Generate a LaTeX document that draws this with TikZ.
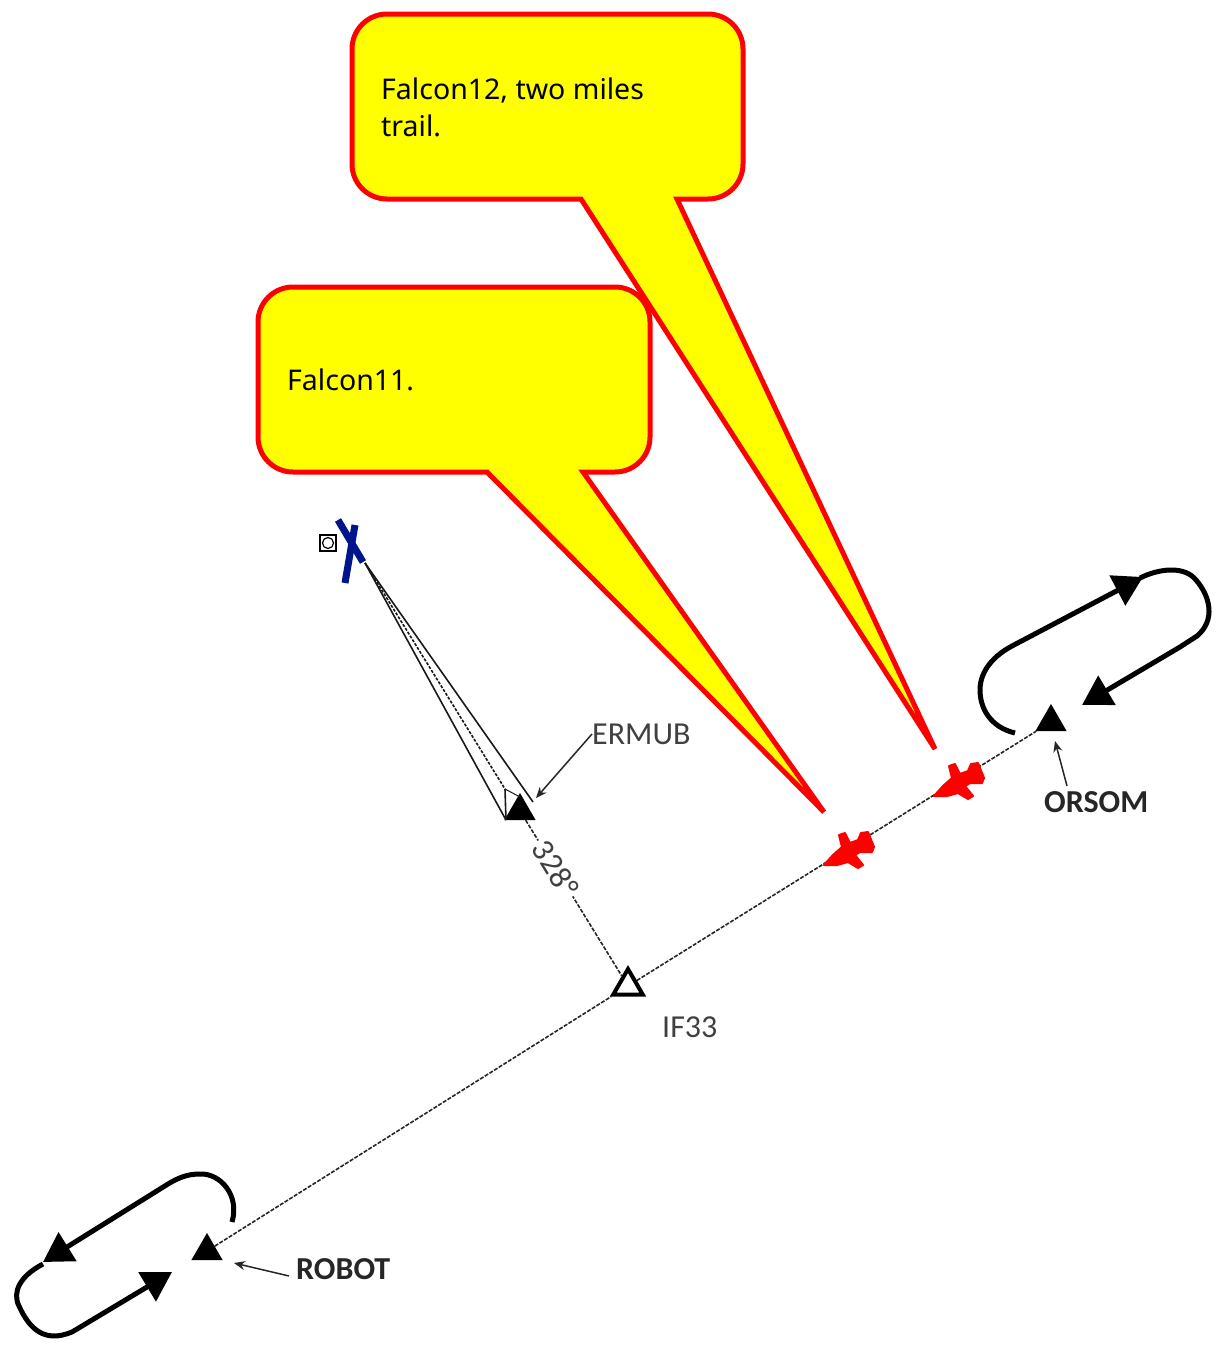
\documentclass[tikz,border=0pt]{standalone}
\usepackage{fontspec}
\setmainfont{Noto Sans}
\newfontfamily\labelfont{Carlito}
\usetikzlibrary{shapes,shapes.geometric,positioning,calc,arrows.meta}
\definecolor{bubbleyellow}{RGB}{255,255,0}
\definecolor{bubblered}{RGB}{255,0,0}
\definecolor{crossblue}{RGB}{0,20,140}

\begin{document}
\begin{tikzpicture}[x=1pt,y=-1pt]

\tikzset{
	fix/.style={
		regular polygon,
		regular polygon sides=3,
		fill=black,
		inner sep=0pt,
		minimum size=36pt
	}
}

\tikzset{
	fixlabel/.style={
		font=\labelfont\fontsize{32}{36}\selectfont,
		text=black!75,
		inner sep=0pt
	}
}

\tikzset{
	holdlabel/.style={
		font=\labelfont\bfseries\fontsize{32}{36}\selectfont,
		text=black!85,
		inner sep=0pt
	}
}

\tikzset{
	saying/.style={
		font=\fontsize{28.5}{36.5}\selectfont,
		align=left,
		anchor=north west,
		inner sep=0pt
	}
}

\tikzset{
	bubble/.style={
		draw=bubblered,
		fill=bubbleyellow,
		line width=5pt,
		line join=miter
	}
}

\tikzset{
	track/.style={
		line width=1.6pt,
		dash pattern=on 4pt off 1.5pt,
		black!85
	}
}

\tikzset{
	hold/.style={
		line width=5pt,
		black
	}
}

\tikzset{
	leader/.style={
		-{Stealth[length=11pt,width=9pt]},
		line width=1.5pt,
		black!85
	}
}

\tikzset{
	wedgeline/.style={
		line width=1.6pt,
		black!90
	}
}

\tikzset{
	jet/.pic={
		\fill[bubblered,draw=bubblered,line width=2pt,line join=round]
			(-26,15) -- (-17,5) -- (-8,-3) -- (-11,-15) -- (-5,-17) -- (0,-7)
			-- (8,-10) -- (11,-17) -- (18,-18) -- (24,-3) -- (22,2) -- (10,2)
			-- (5,5) -- (13,15) -- (8,18) -- (-2,12) -- (-13,15) -- cycle;
	}
}

\def\bend{35}
\def\arrowhead{{Triangle[length=29pt,width=33pt]}}

\useasboundingbox (0,0) rectangle (1216,1347);

% fixes
\node[fix] (robot) at (207,1251) {};
\node[fix] (orsom) at (1051,722) {};
\node[fix] (ermub) at (520,811) {};
\node[fix,fill=white,draw=black,line width=4pt,minimum size=34pt] (if33) at (628,986) {};

% approach track
\draw[track] (robot) -- (if33);
\draw[track] (if33) -- (orsom);
\draw[track] (ermub) -- node[pos=.31,sloped,fill=white,inner sep=3pt,font=\labelfont\fontsize{32}{36}\selectfont,text=black!75] (course) {328\textdegree} (if33);

% aircraft
\pic (jetB) at (850,850) {jet};
\pic (jetA) at (960,781) {jet};

% holding at orsom
\coordinate (holdAa) at (1015,733);
\coordinate (holdAb) at (1143,577);
\coordinate (holdAc) at (1082,705);
\draw[hold,-\arrowhead] (holdAa) .. controls (990,727) and (980,708) .. (980,690)
	.. controls (980,670) and (995,655) .. (1012,646) -- (holdAb);
\draw[hold,-\arrowhead] (1140,578) .. controls (1160,568) and (1185,566) .. (1196,580)
	.. controls (1210,596) and (1216,620) .. (1197,636) -- (1180,647) -- (holdAc);

% holding at robot
\coordinate (holdBa) at (232,1222);
\coordinate (holdBb) at (43,1262);
\coordinate (holdBc) at (172,1272);
\draw[hold,-\arrowhead] (holdBa) .. controls (240,1195) and (220,1173) .. (200,1174)
	.. controls (187,1174) and (178,1178) .. (168,1184) -- (holdBb);
\draw[hold,-\arrowhead] (43,1264) .. controls (20,1276) and (12,1292) .. (19,1306)
	.. controls (30,1330) and (45,1343) .. (72,1332) -- (holdBc);

% fix names
\node[fixlabel,anchor=west] (ermubname) at (592,734) {ERMUB};
\node[fixlabel,anchor=west] (if33name) at (662,1027) {IF33};
\node[holdlabel,anchor=west] (orsomname) at (1044,802) {ORSOM};
\node[holdlabel,anchor=west] (robotname) at (296,1269) {ROBOT};

% leaders
\coordinate (ermubtip) at (536,798);
\coordinate (orsomtip) at (1055,741);
\coordinate (robottip) at (234,1263);
\coordinate (orsomtail) at (1067,786);
\coordinate (robottail) at (289,1276);
\draw[leader] (ermubname.west) -- (ermubtip);
\draw[leader] (orsomtail) -- (orsomtip);
\draw[leader] (robottail) -- (robottip);

% observer and wedge
\coordinate (wedge) at (365,563);
\coordinate (wedgeA) at (506,820);
\coordinate (wedgeB) at (533,802);
\coordinate (wedgeC) at (505,789);
\draw[wedgeline] (wedge) -- (wedgeA);
\draw[wedgeline] (wedge) -- (wedgeB);
\draw[wedgeline,dash pattern=on 3pt off 1.5pt] (wedge) -- (wedgeC);
\draw[wedgeline] (wedgeC) -- (wedgeA);
\draw[wedgeline,line width=1pt] (wedgeC) -- (520,797);
\draw[line width=7pt,crossblue] (338,520) -- (363,562);
\draw[line width=7pt,crossblue] (355,525) -- (345,583);
\draw[line width=2.2pt,fill=white] (320,535) rectangle (336,551);
\draw[line width=1.2pt] (328,543) circle (5.5);

% callouts
\draw[bubble,rounded corners=\bend] (352,14) -- (743,14) -- (743,199)
	[sharp corners] -- (677,199) -- (935,749) -- (581,199)
	[rounded corners=\bend] -- (352,199) -- cycle;
\node[saying] (sayingA) at (381,78) {Falcon12, two miles\\trail.};

\draw[bubble,rounded corners=\bend] (258,287) -- (650,287) -- (650,472)
	[sharp corners] -- (583,472) -- (824,812) -- (487,472)
	[rounded corners=\bend] -- (258,472) -- cycle;
\node[saying] (sayingB) at (287,369) {Falcon11.};

\end{tikzpicture}
\end{document}
